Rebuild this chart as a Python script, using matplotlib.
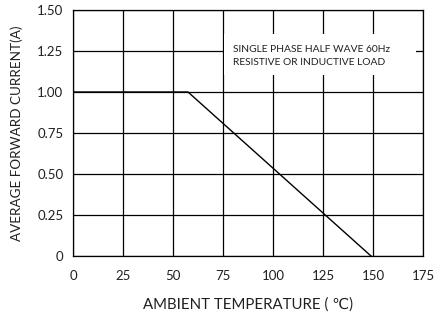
import matplotlib
matplotlib.use("Agg")
import matplotlib.pyplot as plt
from matplotlib.patches import Rectangle

temps = [0, 57.5, 149]
currents = [1.0, 1.0, 0.0]
xticks = [0, 25, 50, 75, 100, 125, 150, 175]
yticks = [0, 0.25, 0.5, 0.75, 1.0, 1.25, 1.5]
ytick_labels = ["0", "0.25", "0.50", "0.75", "1.00", "1.25", "1.50"]
note_lines = ["SINGLE PHASE HALF WAVE 60Hz", "RESISTIVE OR INDUCTIVE LOAD"]

plt.rcParams['font.family'] = ['Lato', 'DejaVu Sans']
txtcol = '#231f20'

fig = plt.figure(figsize=(4.41, 3.15), dpi=100)
ax = fig.add_axes([73/441, 1-256/315, 350/441, 246/315])
ax.set_xlim(0, 175)
ax.set_ylim(0, 1.5)
ax.set_xticks(xticks)
ax.set_xticklabels([str(t) for t in xticks])
ax.set_yticks(yticks)
ax.set_yticklabels(ytick_labels)
ax.grid(True, color='black', linewidth=0.9, zorder=1)
ax.set_axisbelow(True)
ax.tick_params(length=0, labelsize=9.5, colors=txtcol)
ax.tick_params(axis='x', pad=10)
ax.tick_params(axis='y', pad=7)
for s in ax.spines.values():
    s.set_color('black')
    s.set_linewidth(0.9)

ax.add_patch(Rectangle((75.6, 1.104), 96.0, 0.25, facecolor='white',
                       edgecolor='none', zorder=2))
ax.text(80, 1.262, note_lines[0], fontsize=7.4, color=txtcol, va='center', ha='left', zorder=3)
ax.text(80, 1.177, note_lines[1], fontsize=7.4, color=txtcol, va='center', ha='left', zorder=3)

ax.plot(temps, currents, color='black', linewidth=1.0, zorder=4)

ax.set_xlabel("AMBIENT TEMPERATURE ( \u2103)", fontsize=10.8, color=txtcol, labelpad=11)
ax.set_ylabel("AVERAGE FORWARD CURRENT(A)", fontsize=9.7, color=txtcol, labelpad=10)

fig.savefig("out.png", dpi=100)
